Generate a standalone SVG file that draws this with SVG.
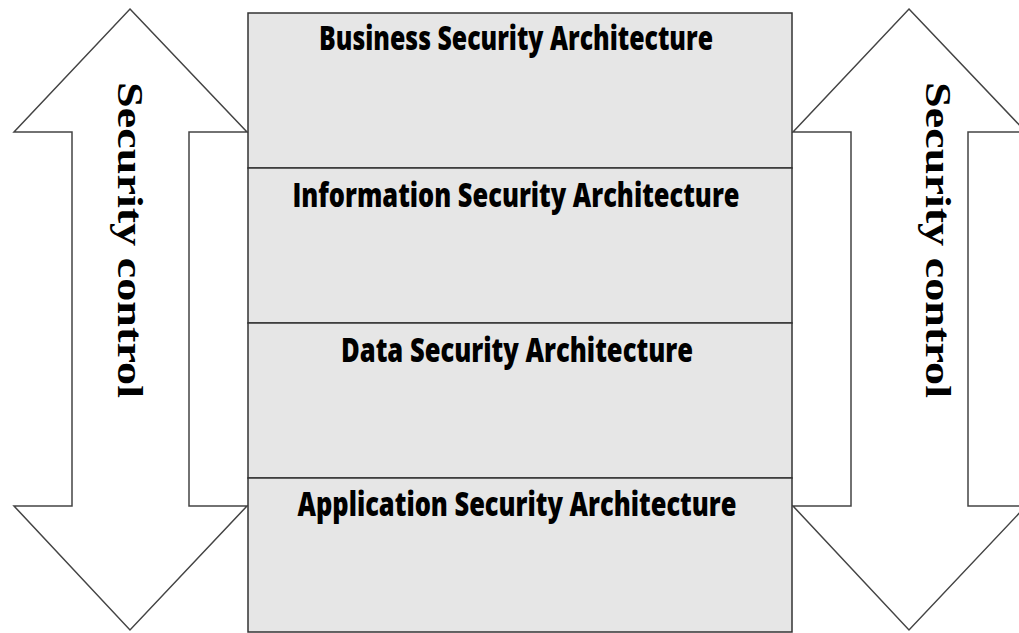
<svg xmlns="http://www.w3.org/2000/svg" width="1019" height="633" viewBox="0 0 1019 633">
<style>
.arrow{fill:#ffffff;stroke:#444444;stroke-width:1.5;stroke-linejoin:miter}
.layer{fill:#e6e6e6;stroke:#333333;stroke-width:1.5}
.lbl{font-family:"Open Sans","Liberation Sans",sans-serif;font-weight:800;font-size:34px;fill:#000;text-anchor:middle}
.vt{font-family:"Liberation Serif","Times New Roman",serif;font-weight:bold;font-size:35px;fill:#000;text-anchor:middle}
</style>
<rect width="1019" height="633" fill="#ffffff"/>
<g id="arrow-left">
<polygon class="arrow" points="130,9 247,132 189,132 189,506 247,506 130,630 14,506 72,506 72,132 14,132"/>
<text class="vt" transform="translate(118,240) rotate(90)" textLength="316" lengthAdjust="spacingAndGlyphs">Security control</text>
</g>
<g id="arrow-right">
<polygon class="arrow" points="909,9 1026,132 968,132 968,506 1026,506 909,630 793,506 851,506 851,132 793,132"/>
<text class="vt" transform="translate(926,240) rotate(90)" textLength="316" lengthAdjust="spacingAndGlyphs">Security control</text>
</g>
<g id="business">
<rect class="layer" x="248" y="13" width="544" height="155"/>
<text class="lbl" x="516" y="50" textLength="394" lengthAdjust="spacingAndGlyphs">Business Security Architecture</text>
</g>
<g id="information">
<rect class="layer" x="248" y="168" width="544" height="155"/>
<text class="lbl" x="516" y="207" textLength="447" lengthAdjust="spacingAndGlyphs">Information Security Architecture</text>
</g>
<g id="data">
<rect class="layer" x="248" y="323" width="544" height="155"/>
<text class="lbl" x="517" y="362" textLength="352" lengthAdjust="spacingAndGlyphs">Data Security Architecture</text>
</g>
<g id="application">
<rect class="layer" x="248" y="478" width="544" height="154"/>
<text class="lbl" x="517" y="516" textLength="439" lengthAdjust="spacingAndGlyphs">Application Security Architecture</text>
</g>
<g id="connectors"></g>
</svg>
